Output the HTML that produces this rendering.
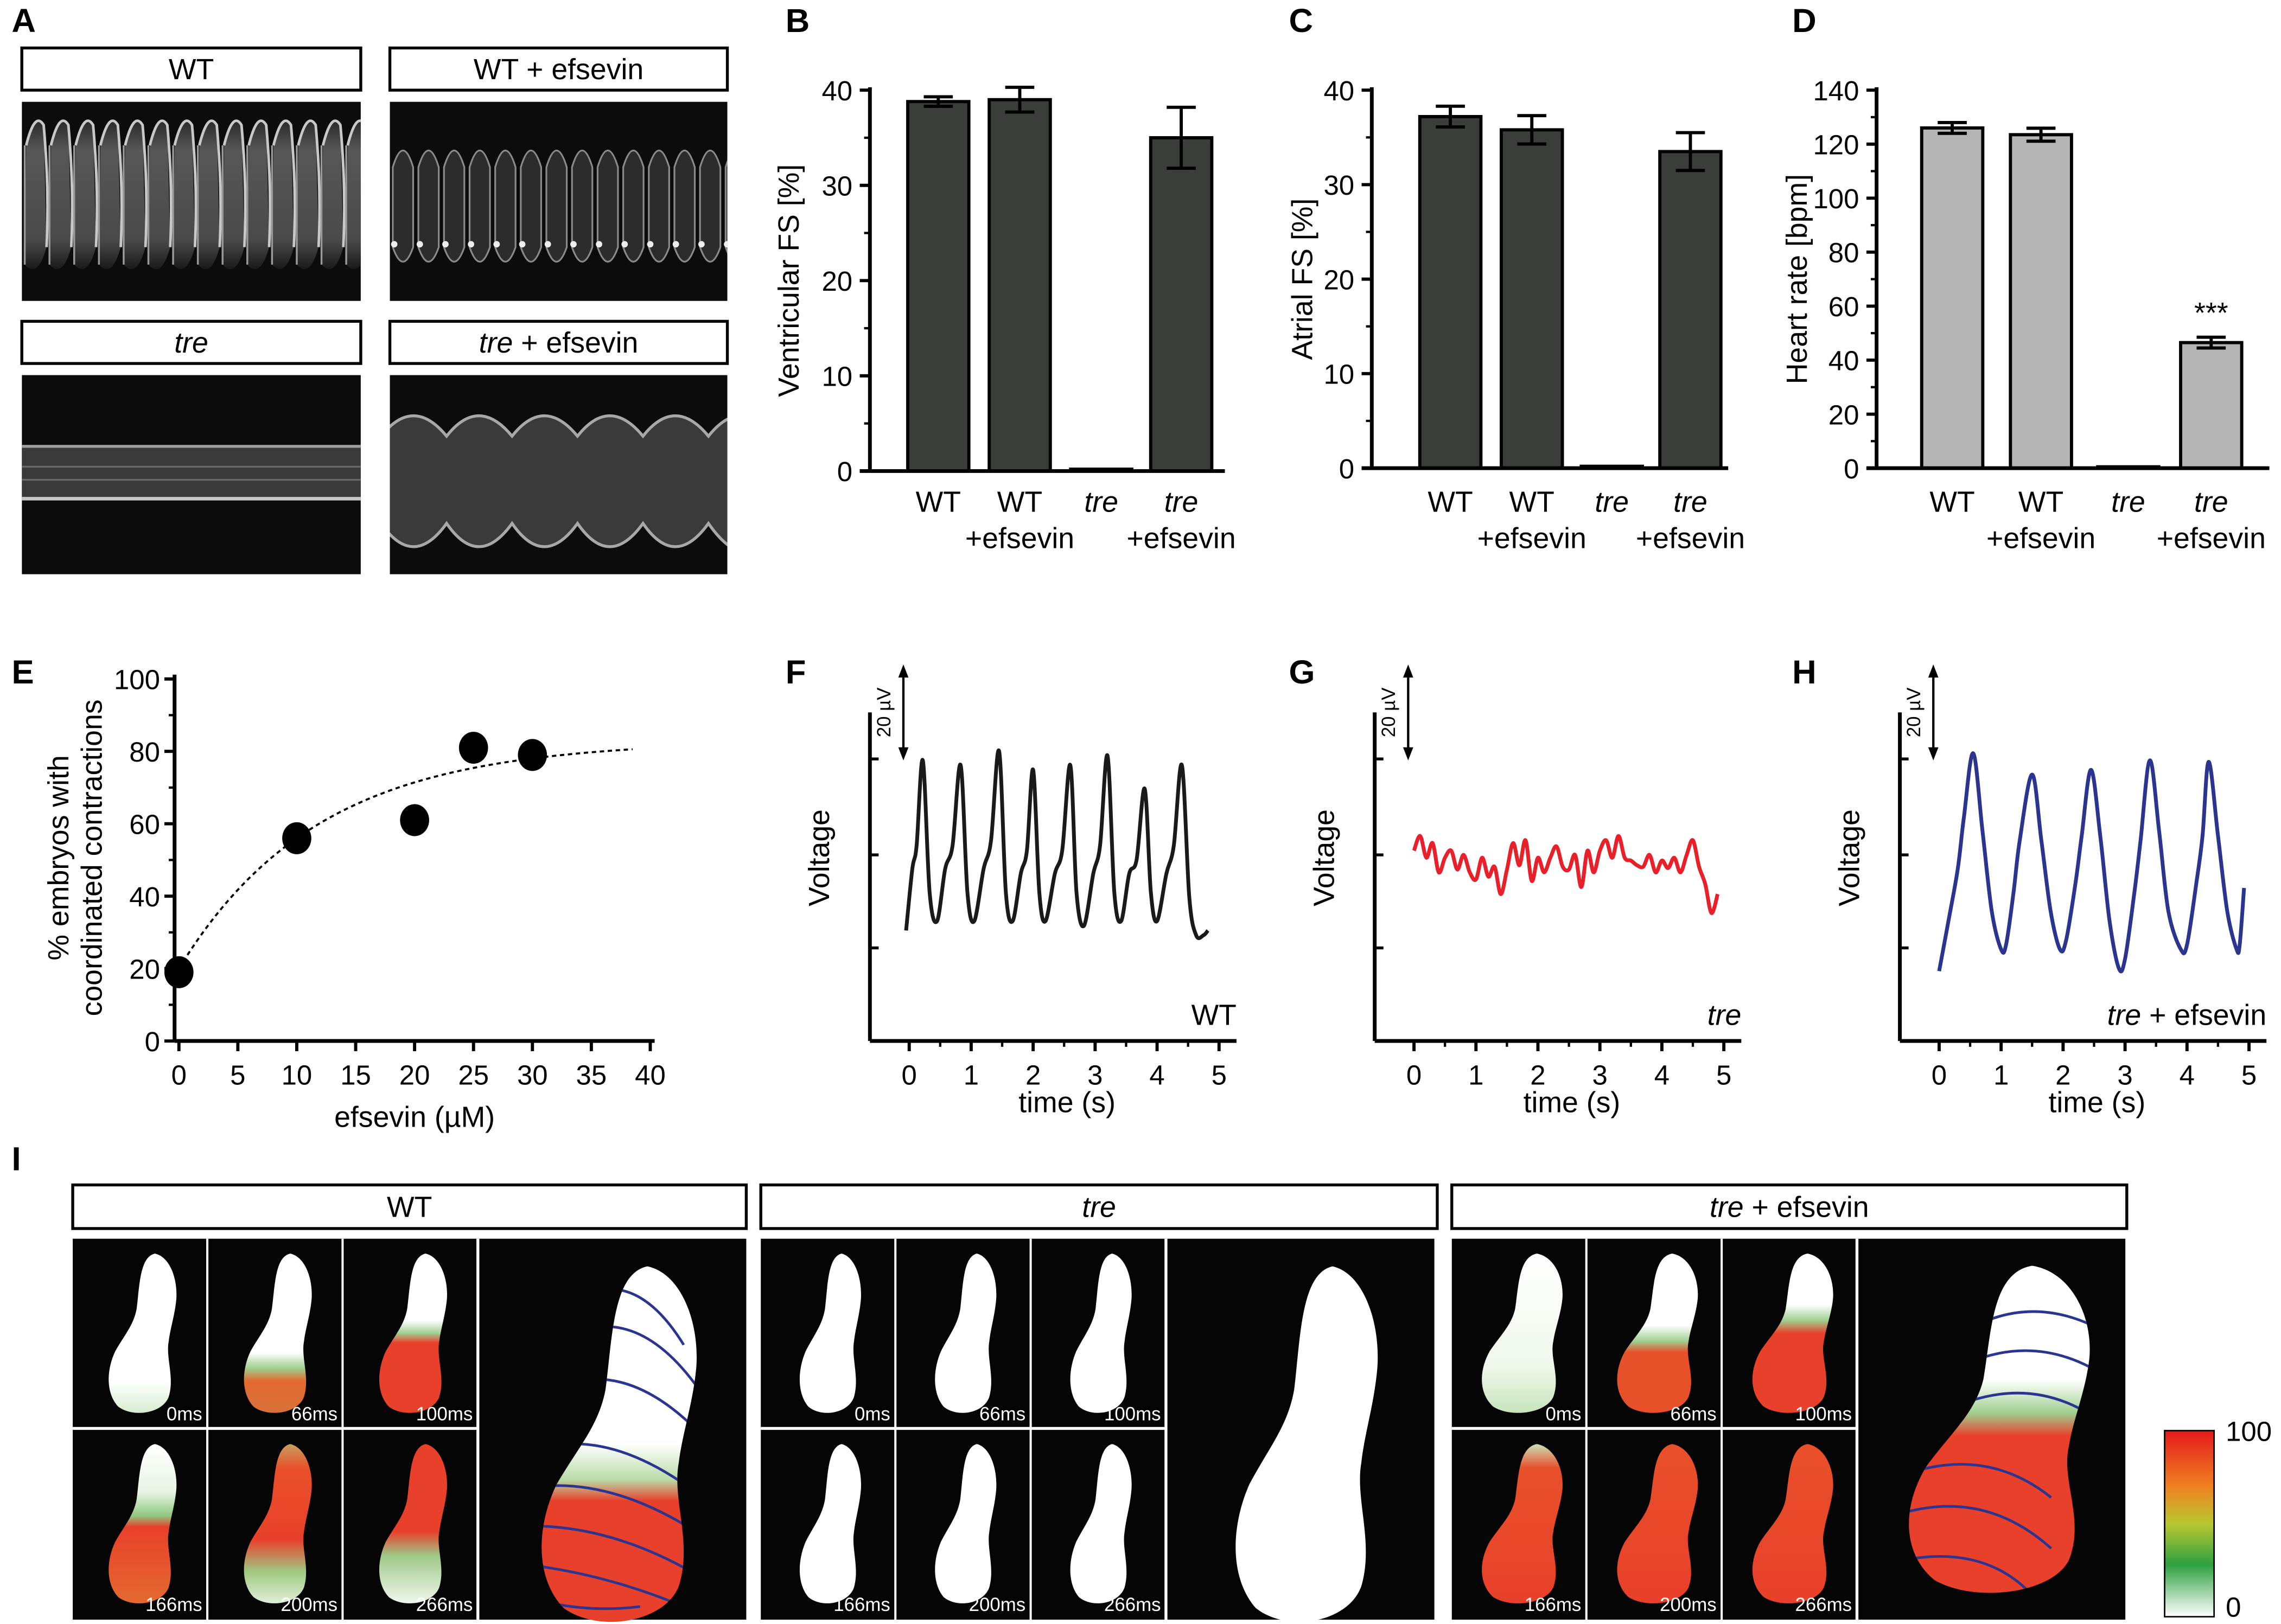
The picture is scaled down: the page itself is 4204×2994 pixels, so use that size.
<!DOCTYPE html>
<html><head><meta charset="utf-8">
<style>
html,body{margin:0;padding:0;background:#fff;}
svg{display:block;font-family:"Liberation Sans",Arial,sans-serif;}
</style></head>
<body>
<svg id="fig" width="4204" height="2994" viewBox="0 0 1568 1117" preserveAspectRatio="none" xmlns="http://www.w3.org/2000/svg">
<defs>
<linearGradient id="cbar" x1="0" y1="0" x2="0" y2="1">
<stop offset="0" stop-color="#e41a1c"/><stop offset="0.3" stop-color="#f08020"/><stop offset="0.5" stop-color="#b8c830"/><stop offset="0.72" stop-color="#2ea040"/><stop offset="1" stop-color="#ffffff"/>
</linearGradient>
<linearGradient id="stripeFill" x1="0" y1="0" x2="0" y2="1"><stop offset="0" stop-color="#2a2a2a"/><stop offset="0.2" stop-color="#575757"/><stop offset="0.8" stop-color="#4a4a4a"/><stop offset="1" stop-color="#1a1a1a"/></linearGradient>
<clipPath id="clipA1"><rect x="15" y="70" width="233" height="137"/></clipPath>
<clipPath id="clipA2"><rect x="268" y="70" width="232" height="137"/></clipPath>
<clipPath id="clipA3"><rect x="15" y="258" width="233" height="137"/></clipPath>
<clipPath id="clipA4"><rect x="268" y="258" width="232" height="137"/></clipPath>
</defs>
<g id="root"></g>
</svg>
<script>
// ---------- DATA ----------
const barCategories = ["WT","WT","tre","tre"];
const barSub = ["","+efsevin","","+efsevin"];
const valuesB = [38.8, 39.0, 0.2, 35.0];
const errorsB = [0.5, 1.3, 0, 3.2];
const valuesC = [37.2, 35.8, 0.2, 33.5];
const errorsC = [1.1, 1.5, 0, 2.0];
const valuesD = [126, 123.5, 0.5, 46.5];
const errorsD = [2.0, 2.4, 0, 2.0];
const ticksB = [0,10,20,30,40];
const ticksD = [0,20,40,60,80,100,120,140];
const eDose = [0,10,20,25,30];
const ePct = [19,56,61,81,79];
const eXTicks = [0,5,10,15,20,25,30,35,40];
const eYTicks = [0,20,40,60,80,100];
const eFitMax = 83, eFitAmp = 63, eFitK = 11.8;
const tTicks = [0,1,2,3,4,5];
const fTime = [-0.05,0.05,0.12,0.22,0.33,0.45,0.58,0.7,0.83,0.94,1.05,1.2,1.32,1.45,1.56,1.67,1.8,1.9,2.0,2.1,2.2,2.35,2.47,2.6,2.7,2.82,2.97,3.08,3.2,3.31,3.42,3.55,3.67,3.8,3.9,4.0,4.15,4.27,4.4,4.52,4.63,4.75,4.82];
const fVolt = [-16,-3,2,20,-8,-14,-3,2,19,-8,-14,-3,3,22,-8,-14,-4,1,18,-8,-14,-4,1,19,-8,-15,-4,2,21,-8,-14,-4,-1,14,-8,-14,-4,2,19,-9,-17,-17,-16];
const gTime = [0,0.1,0.2,0.3,0.4,0.5,0.6,0.7,0.8,0.9,1.0,1.1,1.2,1.3,1.4,1.5,1.6,1.7,1.8,1.9,2.0,2.1,2.2,2.3,2.4,2.5,2.6,2.7,2.8,2.9,3.0,3.1,3.2,3.3,3.4,3.5,3.6,3.7,3.8,3.9,4.0,4.1,4.2,4.3,4.4,4.5,4.6,4.7,4.8,4.9];
const gVolt = [0.9,4.0,-0.6,2.5,-3.7,-0.6,0.9,-3.1,0,-3.7,-5.2,-0.6,-4.6,-2.5,-8.3,-3.1,2.5,-2.2,3.1,-5.5,-0.6,-3.7,-0.6,1.8,-2.5,-3.1,0,-6.8,0.9,-3.7,0.9,3.1,-0.6,4.0,-0.6,-1.2,-2.2,-2.5,0,-3.7,-1.2,-2.8,-0.6,-3.7,0,3.1,-2.5,-6.2,-12.3,-8.3];
const hTime = [0,0.15,0.3,0.4,0.55,0.7,0.85,1.0,1.08,1.2,1.3,1.5,1.65,1.8,1.95,2.05,2.2,2.3,2.45,2.6,2.75,2.9,3.0,3.15,3.25,3.4,3.55,3.7,3.9,4.0,4.15,4.25,4.35,4.5,4.65,4.8,4.85,4.92];
const hVolt = [-24.6,-14,-3,8,21.5,5,-12,-20,-19,-8,3,17,3,-12,-20,-18,-6,4,18,4,-14,-24,-22,-8,3,20,5,-12,-20,-19,-6,4,19.7,4,-12,-20,-19,-7];
const frameLabels = ["0ms","66ms","100ms","166ms","200ms","266ms"];

// ---------- HELPERS ----------
const NS="http://www.w3.org/2000/svg";
const root=document.getElementById('root');
function mk(tag, attrs, name, parent){
  const el=document.createElementNS(NS,tag);
  for(const k in attrs) el.setAttribute(k, attrs[k]);
  
  
  (parent||root).appendChild(el);
  return el;
}
function txt(x,y,s,size,name,opts){
  opts=opts||{};
  const t=mk('text',{x:x,y:y,'font-size':size,'text-anchor':opts.anchor||'middle',fill:opts.fill||'#000','font-weight':opts.bold?'bold':'normal','font-style':opts.italic?'italic':'normal'},name,opts.parent);
  if(opts.rot) t.setAttribute('transform','rotate('+opts.rot+' '+x+' '+y+')');
  t.textContent=s;
  return t;
}
function line(x1,y1,x2,y2,w,name,col,parent){
  return mk('line',{x1:x1,y1:y1,x2:x2,y2:y2,stroke:col||'#000','stroke-width':w},name,parent);
}
function smooth(pts){
  let d='M'+pts[0][0].toFixed(2)+','+pts[0][1].toFixed(2);
  for(let i=0;i<pts.length-1;i++){
    const p0=pts[Math.max(0,i-1)],p1=pts[i],p2=pts[i+1],p3=pts[Math.min(pts.length-1,i+2)];
    const c1x=p1[0]+(p2[0]-p0[0])/6,c1y=p1[1]+(p2[1]-p0[1])/6;
    const c2x=p2[0]-(p3[0]-p1[0])/6,c2y=p2[1]-(p3[1]-p1[1])/6;
    d+=' C'+c1x.toFixed(2)+','+c1y.toFixed(2)+' '+c2x.toFixed(2)+','+c2y.toFixed(2)+' '+p2[0].toFixed(2)+','+p2[1].toFixed(2);
  }
  return d;
}
function labelBox(x,y,w,h,parts,name){
  mk('rect',{x:x,y:y,width:w,height:h,fill:'#fff',stroke:'#000','stroke-width':2},name);
  const t=mk('text',{x:x+w/2,y:y+h/2+7,'font-size':20,'text-anchor':'middle'},name+'-label');
  parts.forEach(p=>{const s=document.createElementNS(NS,'tspan');s.textContent=p[0];if(p[1])s.setAttribute('font-style','italic');t.appendChild(s);});
}

// ---------- PANEL LETTERS ----------
[["A",8,22],["B",540,22],["C",886,22],["D",1232,22],["E",8,470],["F",540,470],["G",886,470],["H",1232,470],["I",8,805]].forEach(l=>{
  txt(l[1],l[2],l[0],23,'panel-letter-'+l[0].toLowerCase(),{anchor:'start',bold:true});
});

// ---------- PANEL A ----------
labelBox(15,33,233,29,[["WT"]],'box-a-wt');
labelBox(268,33,232,29,[["WT + efsevin"]],'box-a-wt-efsevin');
labelBox(15,221,233,29,[["tre",1]],'box-a-tre');
labelBox(268,221,232,29,[["tre",1],[" + efsevin"]],'box-a-tre-efsevin');
(function(){
  const g=mk('g',{'clip-path':'url(#clipA1)'},'kymograph-wt');
  mk('rect',{x:15,y:70,width:233,height:137,fill:'#0c0c0c'},'kymo-bg',g);
  for(let i=0;i<14;i++){
    const x=18+i*17;
    mk('path',{d:'M'+x+',100 Q'+(x+6)+',76 '+(x+12)+',86 L'+(x+14)+',170 Q'+(x+8)+',192 '+(x-1)+',182 Z',fill:'url(#stripeFill)'},'kymo-stripe',g);
    mk('path',{d:'M'+x+',100 Q'+(x+6)+',76 '+(x+12)+',86 Q'+(x+16)+',130 '+(x+14)+',170',fill:'none',stroke:'#c8c8c8','stroke-width':1.8},'kymo-edge',g);
    mk('path',{d:'M'+(x-1)+',100 L'+(x-1)+',182',fill:'none',stroke:'#999','stroke-width':1.3},'kymo-edge2',g);
  }
  const g2=mk('g',{'clip-path':'url(#clipA2)'},'kymograph-wt-efsevin');
  mk('rect',{x:268,y:70,width:232,height:137,fill:'#0c0c0c'},'kymo-bg',g2);
  for(let i=0;i<14;i++){
    const x=270+i*17.6;
    mk('path',{d:'M'+x+',115 Q'+(x+7)+',92 '+(x+14)+',115 L'+(x+14)+',170 Q'+(x+7)+',190 '+x+',170 Z',fill:'#2c2c2c',stroke:'#8a8a8a','stroke-width':1.2},'kymo-stripe',g2);
    mk('circle',{cx:x+1,cy:168,r:2.2,fill:'#eee'},'kymo-spot',g2);
  }
  const g3=mk('g',{'clip-path':'url(#clipA3)'},'kymograph-tre');
  mk('rect',{x:15,y:258,width:233,height:137,fill:'#0c0c0c'},'kymo-bg',g3);
  mk('rect',{x:15,y:306,width:233,height:38,fill:'#3a3a3a'},'kymo-band',g3);
  line(15,307,248,307,2,'kymo-line',"#a0a0a0",g3);
  line(15,321,248,321,1.2,'kymo-line',"#6a6a6a",g3);
  line(15,330,248,330,1.2,'kymo-line',"#6a6a6a",g3);
  line(15,343,248,343,2.4,'kymo-line',"#c8c8c8",g3);
  const g4=mk('g',{'clip-path':'url(#clipA4)'},'kymograph-tre-efsevin');
  mk('rect',{x:268,y:258,width:232,height:137,fill:'#0c0c0c'},'kymo-bg',g4);
  let d='M262,300';
  for(let i=0;i<6;i++){const x=262+i*45;d+=' Q'+(x+22)+',272 '+(x+45)+',300';}
  d+=' L532,375';
  for(let i=5;i>=0;i--){const x=262+i*45;d+=' Q'+(x+22)+',392 '+x+',360';}
  d+=' Z';
  mk('path',{d:d,fill:'#3a3a3a',stroke:'#a8a8a8','stroke-width':2},'kymo-scallop',g4);
})();

// ---------- BAR PANELS ----------
function barPanel(cfg){
  const g=mk('g',{},cfg.name);
  const ys=v=>cfg.y0-(v/cfg.max)*(cfg.y0-cfg.yTop);
  cfg.vals.forEach((v,i)=>{
    const cx=cfg.centers[i], w=42;
    mk('rect',{x:cx-w/2,y:ys(v),width:w,height:cfg.y0-ys(v),fill:cfg.fill,stroke:'#000','stroke-width':2.2},'bar-'+cfg.key+'-'+i,g);
    const e=cfg.errs[i];
    if(e>0){
      line(cx,ys(v+e),cx,ys(v-e),2.2,'error-bar',null,g);
      line(cx-10,ys(v+e),cx+10,ys(v+e),2.2,'error-cap',null,g);
      line(cx-10,ys(v-e),cx+10,ys(v-e),2.2,'error-cap',null,g);
    }
    txt(cx,352,barCategories[i],20,'x-label',{italic:barCategories[i]==='tre',parent:g});
    if(barSub[i]) txt(cx,377,barSub[i],20,'x-sublabel',{parent:g});
  });
  line(cfg.ax,cfg.yTop-2,cfg.ax,cfg.y0,2.6,'y-axis',null,g);
  line(cfg.ax-7,cfg.y0,cfg.xEnd,cfg.y0,2.6,'x-axis',null,g);
  cfg.ticks.forEach(t=>{
    line(cfg.ax-7,ys(t),cfg.ax,ys(t),2.2,'y-tick',null,g);
    txt(cfg.ax-12,ys(t)+7,String(t),19,'y-tick-label',{anchor:'end',parent:g});
  });
  for(let k=0;k<cfg.ticks.length-1;k++){
    const t=(cfg.ticks[k]+cfg.ticks[k+1])/2;
    line(cfg.ax-4,ys(t),cfg.ax,ys(t),1.6,'y-minor-tick',null,g);
  }
  txt(cfg.titleX,(cfg.y0+cfg.yTop)/2,cfg.title,20,'y-axis-title',{rot:-90,parent:g});
  return {g,ys};
}
barPanel({name:'chart-b',key:'b',ax:598,y0:324,yTop:62,max:40,ticks:ticksB,centers:[645,701,757,812],vals:valuesB,errs:errorsB,fill:'#3b3d3b',xEnd:842,title:'Ventricular FS [%]',titleX:549});
barPanel({name:'chart-c',key:'c',ax:943,y0:322,yTop:62,max:40,ticks:ticksB,centers:[997,1053,1108,1162],vals:valuesC,errs:errorsC,fill:'#3b3d3b',xEnd:1188,title:'Atrial FS [%]',titleX:902});
const dp=barPanel({name:'chart-d',key:'d',ax:1290,y0:322,yTop:62,max:140,ticks:ticksD,centers:[1342,1403,1463,1520],vals:valuesD,errs:errorsD,fill:'#b4b4b4',xEnd:1560,title:'Heart rate [bpm]',titleX:1242});
txt(1520,dp.ys(valuesD[3]+errorsD[3])-10,'***',20,'significance-stars',{});

// ---------- PANEL E ----------
(function(){
  const g=mk('g',{},'chart-e');
  const ax=120,y0=716,yTop=467,x0=123,xMax=447;
  const xs=v=>x0+v/40*(xMax-x0), ys=v=>y0-v/100*(y0-yTop);
  let pts=[];for(let d=0;d<=38.5;d+=0.5){pts.push([xs(d),ys(eFitMax-eFitAmp*Math.exp(-d/eFitK))]);}
  mk('path',{d:smooth(pts),fill:'none',stroke:'#000','stroke-width':1.4,'stroke-dasharray':'3,2.5'},'fit-curve',g);
  eDose.forEach((d,i)=>{mk('ellipse',{cx:xs(d),cy:ys(ePct[i]),rx:10,ry:11,fill:'#000'},'data-point',g);});
  line(ax,yTop-3,ax,y0,2.6,'y-axis',null,g);
  line(ax,y0,xMax+3,y0,2.6,'x-axis',null,g);
  eYTicks.forEach(t=>{line(ax-7,ys(t),ax,ys(t),2.2,'y-tick',null,g);txt(ax-10,ys(t)+7,String(t),19,'y-tick-label',{anchor:'end',parent:g});});
  for(let t=10;t<100;t+=20) line(ax-4,ys(t),ax,ys(t),1.6,'y-minor-tick',null,g);
  eXTicks.forEach(t=>{line(xs(t),y0,xs(t),y0+7,2.2,'x-tick',null,g);txt(xs(t),y0+30,String(t),19,'x-tick-label',{parent:g});});
  txt(285,775,'efsevin (µM)',20,'x-axis-title',{parent:g});
  txt(47,590,'% embryos with',20,'y-axis-title-line1',{rot:-90,parent:g});
  txt(70,590,'coordinated contractions',20,'y-axis-title-line2',{rot:-90,parent:g});
})();

// ---------- PANELS F G H ----------
function tracePanel(name,ax,times,volts,color,labelParts){
  const g=mk('g',{},name);
  const x0=ax+27, pxs=42.6, y0=716, yMid=588;
  const xs=t=>x0+t*pxs, ys=v=>yMid-v*65/20;
  const pts=times.map((t,i)=>[xs(t),ys(volts[i])]);
  mk('path',{d:smooth(pts),fill:'none',stroke:color,'stroke-width':2.6,'stroke-linejoin':'round'},'voltage-trace',g);
  line(ax,490,ax,y0,2.6,'y-axis',null,g);
  line(ax,y0,ax+252,y0,2.6,'x-axis',null,g);
  [522,588,652].forEach(y=>line(ax,y,ax+6,y,2,'y-tick',null,g));
  tTicks.forEach(t=>{line(xs(t),y0,xs(t),y0+7,2.2,'x-tick',null,g);txt(xs(t),y0+30,String(t),19,'x-tick-label',{parent:g});});
  for(let t=0.5;t<5;t+=1) line(xs(t),y0,xs(t),y0+4,1.6,'x-minor-tick',null,g);
  txt(xs(2.5)+2,765,'time (s)',20,'x-axis-title',{parent:g});
  txt(ax-28,590,'Voltage',20,'y-axis-title',{rot:-90,parent:g});
  const sx=ax+23;
  line(sx,462,sx,518,1.6,'scale-bar',null,g);
  mk('path',{d:'M'+(sx-3.5)+',466 L'+sx+',457 L'+(sx+3.5)+',466 Z',fill:'#000'},'scale-arrow-top',g);
  mk('path',{d:'M'+(sx-3.5)+',514 L'+sx+',523 L'+(sx+3.5)+',514 Z',fill:'#000'},'scale-arrow-bottom',g);
  txt(sx-9,490,'20 µV',13,'scale-label',{rot:-90,parent:g});
  const t=mk('text',{x:ax+252,y:705,'font-size':20,'text-anchor':'end'},'trace-label',g);
  labelParts.forEach(p=>{const s=document.createElementNS(NS,'tspan');s.textContent=p[0];if(p[1])s.setAttribute('font-style','italic');t.appendChild(s);});
}
tracePanel('chart-f',598,fTime,fVolt,'#1a1a1a',[["WT"]]);
tracePanel('chart-g',945,gTime,gVolt,'#e8202a',[["tre",1]]);
tracePanel('chart-h',1306,hTime,hVolt,'#2b3590',[["tre",1],[" + efsevin"]]);

// ---------- PANEL I ----------
labelBox(50,815,463,30,[["WT"]],'box-i-wt');
labelBox(523,815,465,30,[["tre",1]],'box-i-tre');
labelBox(998,815,464,30,[["tre",1],[" + efsevin"]],'box-i-tre-efsevin');
const HEART='M34,2 C44,4 49,18 48,30 C47,40 44,48 43,56 C41,66 47,78 43,90 C39,100 20,103 10,96 C2,88 2,74 8,62 C14,52 20,46 22,36 C24,22 24,4 34,2 Z';
let gid=0;
function heart(parent,x,y,sx,sy,stops){
  const id='hg'+(gid++);
  const defs=document.querySelector('defs');
  const lg=document.createElementNS(NS,'linearGradient');
  lg.setAttribute('id',id);lg.setAttribute('x1','0');lg.setAttribute('y1','0');lg.setAttribute('x2','0');lg.setAttribute('y2','1');
  stops.forEach(s=>{const st=document.createElementNS(NS,'stop');st.setAttribute('offset',s[0]);st.setAttribute('stop-color',s[1]);lg.appendChild(st);});
  defs.appendChild(lg);
  const tr='translate('+x+','+y+') scale('+sx+','+sy+')';
  mk('path',{d:HEART,transform:tr,fill:'url(#'+id+')'},'heart-map',parent);
  return tr;
}
const W=[[0,'#fff'],[1,'#fff']];
const wtStops=[
 [[0,'#fff'],[0.8,'#fff'],[1,'#d8ecd0']],
 [[0,'#fff'],[0.62,'#fff'],[0.72,'#9fcf8f'],[0.8,'#e36a30'],[1,'#d8703a']],
 [[0,'#fff'],[0.42,'#fff'],[0.5,'#9fcf8f'],[0.56,'#e8402a'],[1,'#e8402a']],
 [[0,'#fff'],[0.3,'#e8f4e4'],[0.45,'#90c880'],[0.52,'#e8402a'],[1,'#e46a30']],
 [[0,'#c8a060'],[0.15,'#e8502a'],[0.6,'#e8402a'],[0.8,'#a0c880'],[1,'#e0efd8']],
 [[0,'#e8402a'],[0.55,'#e8402a'],[0.7,'#9fc888'],[1,'#f0f7ec']]
];
const teStops=[
 [[0,'#fff'],[0.7,'#f0f8ec'],[1,'#c8e4bc']],
 [[0,'#fff'],[0.45,'#fff'],[0.55,'#9fcf8f'],[0.62,'#e8502a'],[1,'#e8502a']],
 [[0,'#fff'],[0.32,'#fff'],[0.42,'#9fcf8f'],[0.5,'#e8402a'],[1,'#e8402a']],
 [[0,'#c8e0b8'],[0.15,'#e8502a'],[1,'#e8402a']],
 [[0,'#e8502a'],[1,'#e8402a']],
 [[0,'#e8502a'],[1,'#e8402a']]
];
function group(name,gx,stops,sx,sy,bigStops,bigSx,bigSy,contours){
  const g=mk('g',{},name);
  mk('rect',{x:gx,y:852,width:463,height:262,fill:'#050505'},'image-bg',g);
  for(let r=0;r<2;r++)for(let c=0;c<3;c++){
    const cx=gx+c*93, cy=852+r*131;
    const i=r*3+c;
    heart(g,cx+46-24*sx,cy+8,sx,sy,stops[i]);
    txt(cx+89,cy+125,frameLabels[i],13,'frame-label',{anchor:'end',fill:'#fff',parent:g});
  }
  line(gx+92.5,852,gx+92.5,1114,1.5,'separator','#fff',g);
  line(gx+185.5,852,gx+185.5,1114,1.5,'separator','#fff',g);
  line(gx+278.5,852,gx+278.5,1114,2,'separator','#fff',g);
  line(gx,982.5,gx+279,982.5,2,'separator','#fff',g);
  const tr=heart(g,gx+371-24*bigSx,866,bigSx,bigSy,bigStops);
  if(contours){
    const cid='clip-'+name;
    const cp=document.createElementNS(NS,'clipPath');cp.setAttribute('id',cid);
    const cpp=document.createElementNS(NS,'path');cpp.setAttribute('d',HEART);cpp.setAttribute('transform',tr);cp.appendChild(cpp);
    document.querySelector('defs').appendChild(cp);
    const cg=mk('g',{'clip-path':'url(#'+cid+')'},'isochrones',g);
    contours.forEach(c=>mk('path',{d:c,fill:'none',stroke:'#2b3590','stroke-width':1.8},'isochrone-line',cg));
  }
}
const wtContours=[
 'M380,905 Q430,860 470,925','M372,930 Q430,885 480,955','M368,962 Q425,925 485,990',
 'M360,1000 Q420,975 495,1040','M355,1025 Q420,1010 495,1065','M350,1050 Q420,1045 490,1090','M350,1075 Q410,1080 470,1105','M360,1098 Q400,1110 440,1105'
];
group('maps-wt',50,wtStops,1.05,1.12,[[0,'#fff'],[0.5,'#fff'],[0.6,'#b8dca8'],[0.66,'#e8402a'],[1,'#e8402a']],2.4,2.5,wtContours);
group('maps-tre',523,[W,W,W,W,W,W],0.95,1.12,W,2.2,2.5,null);
const teContours=['M1320,940 Q1380,880 1445,915','M1310,965 Q1380,905 1445,945','M1305,990 Q1380,935 1440,975','M1295,1020 Q1360,990 1410,1030','M1295,1045 Q1360,1020 1410,1065','M1300,1075 Q1360,1060 1395,1095'];
group('maps-tre-efsevin',998,teStops,1.25,1.12,[[0,'#fff'],[0.35,'#fff'],[0.45,'#9fcf8f'],[0.52,'#e8402a'],[1,'#e8402a']],2.8,2.3,teContours);

mk('rect',{x:1488,y:984,width:34,height:128,fill:'url(#cbar)',stroke:'#000','stroke-width':1},'colorbar');
txt(1530,991,'100',19,'colorbar-max-label',{anchor:'start'});
txt(1530,1112,'0',19,'colorbar-min-label',{anchor:'start'});
</script>
</body></html>
